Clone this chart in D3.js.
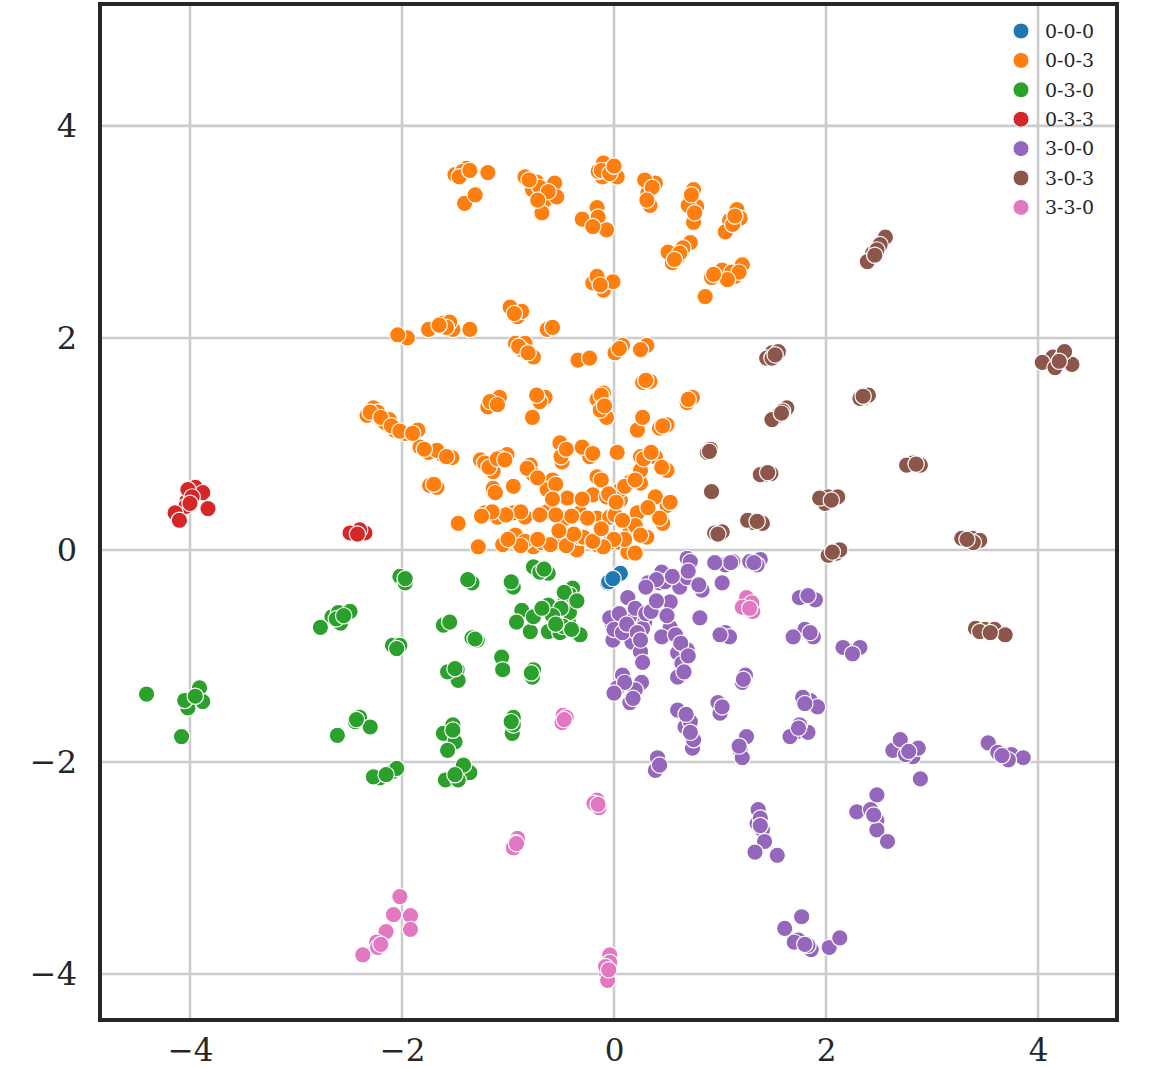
<!DOCTYPE html>
<html>
<head>
<meta charset="utf-8">
<script src="https://cdn.jsdelivr.net/npm/d3@7"></script>
<style>
  body { margin: 0; background: #fff; }
</style>
</head>
<body>
<div id="chart"></div>
<script>
// categories and their colours (tab10)
const categories = ["0-0-0", "0-0-3", "0-3-0", "0-3-3", "3-0-0", "3-0-3", "3-3-0"];
const colors = ["#1f77b4", "#ff7f0e", "#2ca02c", "#d62728", "#9467bd", "#8c564b", "#e377c2"];

const xTicks = [-4, -2, 0, 2, 4];
const yTicks = [-4, -2, 0, 2, 4];

// points, [x, y]
const pts000 = [[-0.06,-0.31],[-0.03,-0.28],[0.00,-0.26],[0.03,-0.24],[0.06,-0.22],[-0.05,-0.30],[-0.01,-0.27]];

const pts003 = [
  [-1.50,3.54],[-1.39,3.60],[-1.43,3.57],[-1.19,3.56],[-1.41,3.27],[-1.31,3.35],
  [-0.84,3.52],[-0.73,3.47],[-0.77,3.40],[-0.65,3.30],[-0.56,3.46],[-0.54,3.33],[-0.68,3.18],[-0.70,3.42],
  [-0.30,3.12],[-0.16,3.23],[-0.15,3.14],[-0.07,3.02],[-0.20,3.05],
  [-0.10,3.65],[-0.11,3.52],[0.03,3.52],[-0.15,3.57],[-0.06,3.58],
  [0.39,3.46],[0.32,3.37],[0.34,3.25],[0.29,3.49],
  [0.75,3.40],[0.78,3.24],[0.75,3.09],[0.70,3.25],
  [1.16,3.21],[1.09,3.11],[1.05,3.00],[1.19,3.13],
  [0.72,2.90],[0.60,2.76],[0.55,2.71],[0.51,2.81],[0.65,2.85],
  [1.14,2.58],[1.21,2.69],[1.02,2.64],[0.92,2.57],[0.86,2.39],[1.11,2.62],
  [-0.20,2.52],[-0.10,2.45],[-0.01,2.53],[-0.16,2.58],
  [-0.98,2.29],[-0.91,2.20],[-0.87,2.25],
  [-1.95,2.00],[-2.04,2.03],[-1.75,2.08],[-1.61,2.14],[-1.52,2.08],[-1.55,2.15],[-1.36,2.08],
  [-0.93,1.95],[-0.84,1.95],[-0.76,1.82],[-0.87,1.89],[-0.63,2.08],[-0.58,2.10],
  [-0.34,1.79],[-0.23,1.81],[0.01,1.86],[0.08,1.93],[0.31,1.93],[0.25,1.89],
  [0.27,1.58],[0.34,1.59],[-0.10,1.48],[-0.16,1.42],[-0.07,1.25],[-0.13,1.32],
  [-1.14,1.39],[-1.08,1.44],[-1.19,1.35],[-0.77,1.25],[-0.65,1.44],[-0.70,1.40],
  [0.69,1.39],[0.74,1.44],[0.22,1.13],[0.27,1.25],[0.50,1.18],[0.43,1.15],
  [-2.27,1.34],[-2.33,1.27],[-2.23,1.30],[-2.16,1.20],[-2.07,1.13],[-1.97,1.10],[-1.85,1.13],[-2.12,1.23],
  [-1.83,0.97],[-1.75,0.92],[-1.62,0.90],[-1.53,0.87],[-1.67,0.94],
  [-1.74,0.61],[-1.67,0.59],
  [-1.26,0.85],[-1.14,0.74],[-1.01,0.90],[-1.08,0.87],[-1.14,0.58],[-1.12,0.54],
  [-0.79,0.80],[-0.76,0.71],[-0.58,0.66],[-0.63,0.57],[-0.51,1.01],[-0.49,0.83],
  [-0.27,0.94],[-0.16,0.69],[-0.23,0.88],[0.03,0.92],[0.25,0.88],[0.39,0.88],[0.50,0.75],
  [0.25,0.63],[0.15,0.64],[-0.44,0.49],[-0.20,0.52],[-0.07,0.50],[0.06,0.47],
  [0.50,0.42],[0.22,0.35],[0.46,0.25],[0.18,0.19],[0.31,0.12],
  [-1.47,0.25],[-1.22,0.35],[-1.10,0.31],[-0.95,0.35],[-0.84,0.31],[-0.63,0.36],
  [-0.46,0.30],[-0.32,0.35],[-0.16,0.30],[-0.04,0.31],
  [-1.28,0.03],[-1.05,0.05],[-0.93,0.14],[-0.76,0.03],[-0.68,0.07],[-0.54,0.07],
  [-0.35,0.00],[-0.32,0.12],[-0.16,0.05],[-0.04,0.07],[0.15,-0.02],[0.15,0.17],
  [-0.84,0.08],[0.06,0.07],[0.13,-0.02],[-0.29,0.12],[0.01,0.33],[0.06,0.57],
  [0.39,0.50],[0.25,0.75],
  // denser spots
  [-1.46,3.52],[-1.36,3.58],[-0.80,3.49],[-0.62,3.38],[-0.72,3.30],[-0.12,3.58],[-0.04,3.55],[0.00,3.62],
  [0.36,3.42],[0.31,3.30],[0.73,3.35],[0.76,3.18],[1.12,3.07],[1.14,3.15],[0.62,2.80],[0.57,2.74],
  [1.18,2.62],[1.07,2.55],[0.94,2.60],[-0.13,2.50],[-0.94,2.23],[-1.58,2.10],[-1.65,2.12],
  [-0.90,1.92],[-0.81,1.86],[0.30,1.60],[0.05,1.90],[-0.12,1.46],[-0.09,1.36],[-1.17,1.40],
  [-1.10,1.37],[-0.73,1.46],[0.70,1.42],[0.46,1.17],[-2.30,1.30],[-2.20,1.25],[-2.10,1.17],
  [-2.02,1.12],[-1.90,1.10],[-1.79,0.95],[-1.58,0.88],[-1.70,0.62],
  [-1.22,0.82],[-1.18,0.78],[-1.10,0.86],[-1.03,0.85],[-0.82,0.77],[-0.72,0.68],[-0.55,0.62],
  [-0.50,0.88],[-0.45,0.95],[-0.30,0.97],[-0.20,0.91],[-0.12,0.66],[-0.05,0.53],[0.02,0.45],
  [0.10,0.60],[0.20,0.66],[0.28,0.86],[0.35,0.92],[0.45,0.78],[0.53,0.45],[0.43,0.30],
  [0.20,0.23],[0.25,0.14],[0.10,0.10],[0.00,0.10],[-0.10,0.03],[-0.20,0.08],[-0.25,0.30],
  [-0.40,0.32],[-0.55,0.33],[-0.70,0.33],[-0.88,0.36],[-1.02,0.33],[-1.15,0.36],[-1.25,0.32],
  [-0.60,0.05],[-0.72,0.10],[-0.88,0.04],[-1.00,0.10],[-0.45,0.04],[-0.38,0.15],[0.20,-0.03],
  [-0.52,0.18],[-0.12,0.20],[0.08,0.28],[0.32,0.40],[-0.30,0.48],[-0.58,0.48],[-0.95,0.60]
];

const pts030 = [
  [-1.99,-0.28],[-2.02,-0.25],[-1.97,-0.31],[-1.36,-0.30],[-1.34,-0.31],
  [-0.96,-0.33],[-0.95,-0.35],[-0.73,-0.19],[-0.62,-0.22],[-0.76,-0.16],
  [-0.39,-0.36],[-0.46,-0.47],[-0.62,-0.52],[-0.42,-0.42],
  [-0.87,-0.57],[-0.92,-0.68],[-0.79,-0.77],[-0.62,-0.77],[-0.43,-0.68],
  [-0.32,-0.80],[-0.51,-0.78],[-0.42,-0.59],[-0.76,-0.63],
  [-2.66,-0.63],[-2.77,-0.73],[-2.60,-0.59],[-2.49,-0.58],[-2.58,-0.69],
  [-2.09,-0.90],[-2.02,-0.90],[-1.61,-0.71],[-1.55,-0.68],[-1.34,-0.83],[-1.29,-0.85],
  [-1.48,-1.13],[-1.47,-1.23],[-1.57,-1.15],[-1.06,-1.01],[-1.05,-1.13],
  [-0.76,-1.13],[-0.77,-1.20],
  [-4.41,-1.36],[-3.91,-1.30],[-3.88,-1.43],[-4.02,-1.49],[-4.05,-1.42],[-4.08,-1.76],
  [-2.44,-1.62],[-2.40,-1.58],[-2.30,-1.67],[-2.61,-1.75],
  [-1.52,-1.65],[-1.61,-1.73],[-1.50,-1.81],[-1.57,-1.89],
  [-0.95,-1.58],[-0.96,-1.73],[-0.95,-1.65],
  [-2.09,-2.09],[-2.21,-2.15],[-2.05,-2.06],[-2.27,-2.14],
  [-1.43,-2.09],[-1.59,-2.17],[-1.36,-2.10],[-1.47,-2.17],[-1.42,-2.03],
  [-0.70,-0.21],[-0.66,-0.18],[-0.47,-0.40],[-0.50,-0.55],[-0.58,-0.62],[-0.48,-0.72],
  [-0.40,-0.75],[-0.55,-0.70],[-0.68,-0.55],[-0.35,-0.48],[-2.62,-0.65],[-2.55,-0.62],
  [-1.97,-0.27],[-1.38,-0.28],[-0.97,-0.30],[-1.50,-1.12],[-1.52,-1.70],[-0.97,-1.62],
  [-2.43,-1.60],[-2.15,-2.12],[-1.50,-2.12],[-3.95,-1.38],[-2.05,-0.93],[-1.31,-0.84],[-0.78,-1.16]
];

const pts033 = [
  [-3.95,0.59],[-3.88,0.54],[-4.03,0.46],[-4.04,0.41],[-3.83,0.39],[-4.14,0.35],
  [-4.10,0.28],[-4.02,0.57],[-2.44,0.17],[-2.35,0.16],[-2.40,0.19],[-2.49,0.16],
  [-3.98,0.50],[-4.00,0.44],[-2.42,0.15]
];

const pts300 = [
  [0.69,-0.08],[0.72,-0.11],[1.05,-0.14],[1.12,-0.11],[1.28,-0.11],[1.38,-0.09],[1.35,-0.14],
  [0.45,-0.21],[0.32,-0.31],[0.43,-0.31],[0.53,-0.49],[0.62,-0.35],[0.69,-0.26],[0.83,-0.38],[1.02,-0.31],
  [0.13,-0.45],[-0.02,-0.69],[-0.04,-0.64],[0.17,-0.61],[0.29,-0.68],[0.27,-0.74],
  [-0.01,-0.85],[0.17,-0.87],[0.25,-0.96],[0.27,-1.06],[0.53,-0.73],[0.45,-0.82],
  [0.60,-0.97],[0.69,-0.94],[0.64,-1.07],[0.60,-1.20],[0.81,-0.64],[1.05,-0.78],[1.09,-0.82],
  [1.75,-0.45],[1.90,-0.47],[1.83,-0.43],[1.80,-0.75],[1.69,-0.82],[1.88,-0.82],
  [2.25,-0.96],[2.32,-0.92],[2.16,-0.92],
  [0.08,-1.18],[0.03,-1.30],[0.26,-1.25],[0.15,-1.44],[0.20,-1.32],
  [0.60,-1.51],[0.67,-1.67],[0.72,-1.62],[0.74,-1.87],[0.75,-1.79],
  [0.98,-1.44],[1.00,-1.54],[1.21,-1.25],[1.24,-1.18],
  [1.85,-1.42],[1.92,-1.48],[1.78,-1.39],[1.71,-1.72],[1.83,-1.72],[1.66,-1.76],[1.75,-1.65],
  [1.19,-1.89],[1.25,-1.76],[1.21,-1.96],[0.41,-1.96],[0.39,-2.08],[0.43,-2.03],
  [2.63,-1.89],[2.70,-1.79],[2.82,-1.95],[2.87,-1.87],[2.75,-1.93],
  [3.53,-1.82],[3.62,-1.91],[3.75,-1.93],[3.86,-1.96],[3.72,-1.98],[2.89,-2.16],
  [1.36,-2.45],[1.35,-2.58],[1.40,-2.64],[1.42,-2.75],[1.33,-2.85],[1.54,-2.88],[1.38,-2.53],
  [2.48,-2.31],[2.29,-2.47],[2.42,-2.45],[2.48,-2.55],[2.48,-2.64],[2.58,-2.75],
  [1.77,-3.46],[1.61,-3.57],[1.74,-3.68],[1.86,-3.77],[2.03,-3.75],[2.13,-3.66],[1.70,-3.70],[1.83,-3.73],
  [0.05,-0.60],[0.00,-0.75],[0.08,-0.78],[0.12,-0.70],[0.20,-0.55],[0.22,-0.78],[0.30,-0.60],
  [0.35,-0.58],[0.40,-0.48],[0.48,-0.30],[0.55,-0.25],[0.50,-0.62],[0.58,-0.80],[0.63,-0.88],
  [0.70,-1.00],[0.66,-1.15],[0.25,-0.85],[0.10,-1.25],[0.00,-1.35],[0.18,-1.40],[0.68,-1.55],
  [0.72,-1.72],[1.02,-1.48],[1.22,-1.22],[1.18,-1.85],[1.85,-0.78],[1.80,-1.45],[1.74,-1.68],
  [2.25,-0.98],[2.78,-1.90],[3.66,-1.94],[1.38,-2.60],[2.45,-2.50],[1.80,-3.72],[0.70,-0.20],
  [1.10,-0.12],[1.32,-0.12],[0.40,-0.28],[0.30,-0.35],[0.80,-0.33],[1.00,-0.80],[0.95,-0.12]
];

const pts303 = [
  [2.56,2.95],[2.51,2.88],[2.44,2.80],[2.39,2.72],[2.48,2.83],
  [1.49,1.86],[1.55,1.87],[1.44,1.81],[1.49,1.81],
  [1.63,1.34],[1.55,1.27],[1.49,1.23],[1.59,1.31],
  [2.37,1.44],[2.32,1.43],[2.40,1.46],
  [1.42,0.71],[1.38,0.71],[1.48,0.72],
  [2.02,0.50],[2.11,0.50],[1.99,0.44],[1.94,0.49],
  [1.31,0.26],[1.40,0.25],[1.26,0.28],
  [2.10,-0.03],[2.02,-0.05],[2.13,0.00],
  [2.82,0.82],[2.89,0.80],[2.76,0.80],
  [4.14,1.82],[4.23,1.82],[4.32,1.75],[4.04,1.77],[4.16,1.72],[4.25,1.87],
  [3.38,0.11],[3.28,0.11],[3.45,0.09],[3.39,0.07],
  [3.41,-0.74],[3.50,-0.75],[3.59,-0.75],[3.69,-0.80],[3.45,-0.77],
  [0.88,0.92],[0.91,0.95],[0.92,0.55],[0.95,0.16],[1.02,0.17],
  [2.46,2.78],[1.52,1.84],[1.58,1.29],[2.35,1.45],[1.45,0.73],[2.05,0.47],[1.35,0.27],
  [2.06,-0.02],[2.85,0.81],[4.20,1.78],[3.33,0.10],[3.55,-0.78],[0.90,0.93],[0.98,0.15]
];

const pts330 = [
  [1.26,-0.52],[1.25,-0.45],[1.31,-0.58],[1.30,-0.50],[1.21,-0.54],
  [-0.48,-1.56],[-0.49,-1.63],[-0.45,-1.58],
  [-0.16,-2.36],[-0.14,-2.43],[-0.19,-2.39],
  [-0.91,-2.72],[-0.93,-2.76],[-0.95,-2.81],
  [-2.02,-3.27],[-2.08,-3.44],[-1.92,-3.45],[-1.92,-3.58],[-2.15,-3.60],[-2.24,-3.70],[-2.37,-3.82],[-2.23,-3.75],
  [-0.04,-3.82],[-0.04,-3.89],[-0.07,-3.99],[-0.06,-4.06],[-0.08,-3.93],
  [1.28,-0.55],[-0.47,-1.60],[-0.15,-2.40],[-0.92,-2.77],[-0.05,-3.96],[-2.20,-3.72]
];

const series = [pts000, pts003, pts030, pts033, pts300, pts303, pts330];

const width = 1153, height = 1069;
const margin = {top: 4, right: 36, bottom: 49, left: 100};

const svg = d3.select("#chart")
  .append("svg")
  .attr("width", width)
  .attr("height", height);

const xScale = d3.scaleLinear().domain([-4.849, 4.745]).range([margin.left, width - margin.right]);
const yScale = d3.scaleLinear().domain([-4.434, 5.15]).range([height - margin.bottom, margin.top]);

const font = "'DejaVu Serif', serif";
const textColor = "#262626";
const minus = d => d3.format("")(d).replace("-", "\u2212");

// grid lines
svg.append("g")
  .selectAll("line")
  .data(xTicks)
  .enter()
  .append("line")
  .attr("x1", d => xScale(d))
  .attr("x2", d => xScale(d))
  .attr("y1", yScale.range()[1])
  .attr("y2", yScale.range()[0])
  .style("stroke", "#cccccc")
  .style("stroke-width", 2.6);

svg.append("g")
  .selectAll("line")
  .data(yTicks)
  .enter()
  .append("line")
  .attr("x1", xScale.range()[0])
  .attr("x2", xScale.range()[1])
  .attr("y1", d => yScale(d))
  .attr("y2", d => yScale(d))
  .style("stroke", "#cccccc")
  .style("stroke-width", 2.6);

// points, category by category
const flat = [];
series.forEach((pts, i) => {
  pts.forEach(p => flat.push({x: p[0], y: p[1], c: i}));
});

svg.append("g")
  .selectAll("circle")
  .data(flat)
  .enter()
  .append("circle")
  .attr("cx", d => xScale(d.x))
  .attr("cy", d => yScale(d.y))
  .attr("r", 8.2)
  .style("fill", d => colors[d.c])
  .style("stroke", "#ffffff")
  .style("stroke-width", 1.2);

// axes (no tick marks, no domain line)
const xAxis = svg.append("g")
  .attr("transform", `translate(0, ${height - margin.bottom})`)
  .call(d3.axisBottom(xScale).tickValues(xTicks).tickSize(0).tickPadding(19).tickFormat(minus));
xAxis.select(".domain").remove();
xAxis.selectAll("text")
  .style("font-family", font)
  .style("font-size", "31px")
  .style("fill", textColor);

const yAxis = svg.append("g")
  .attr("transform", `translate(${margin.left}, 0)`)
  .call(d3.axisLeft(yScale).tickValues(yTicks).tickSize(0).tickPadding(23).tickFormat(minus));
yAxis.select(".domain").remove();
yAxis.selectAll("text")
  .style("font-family", font)
  .style("font-size", "32px")
  .style("fill", textColor);

// frame
svg.append("rect")
  .attr("x", xScale.range()[0])
  .attr("y", yScale.range()[1])
  .attr("width", xScale.range()[1] - xScale.range()[0])
  .attr("height", yScale.range()[0] - yScale.range()[1])
  .style("fill", "none")
  .style("stroke", textColor)
  .style("stroke-width", 4);

// legend
const legend = svg.append("g")
  .selectAll("g")
  .data(categories)
  .enter()
  .append("g")
  .attr("transform", (d, i) => `translate(1021, ${31 + i * 29.4})`);

legend.append("circle")
  .attr("r", 8)
  .style("fill", (d, i) => colors[i])
  .style("stroke", "#ffffff")
  .style("stroke-width", 1);

legend.append("text")
  .attr("x", 24)
  .attr("dy", "0.36em")
  .style("font-family", font)
  .style("font-size", "19px")
  .style("fill", textColor)
  .text(d => d);
</script>
</body>
</html>
